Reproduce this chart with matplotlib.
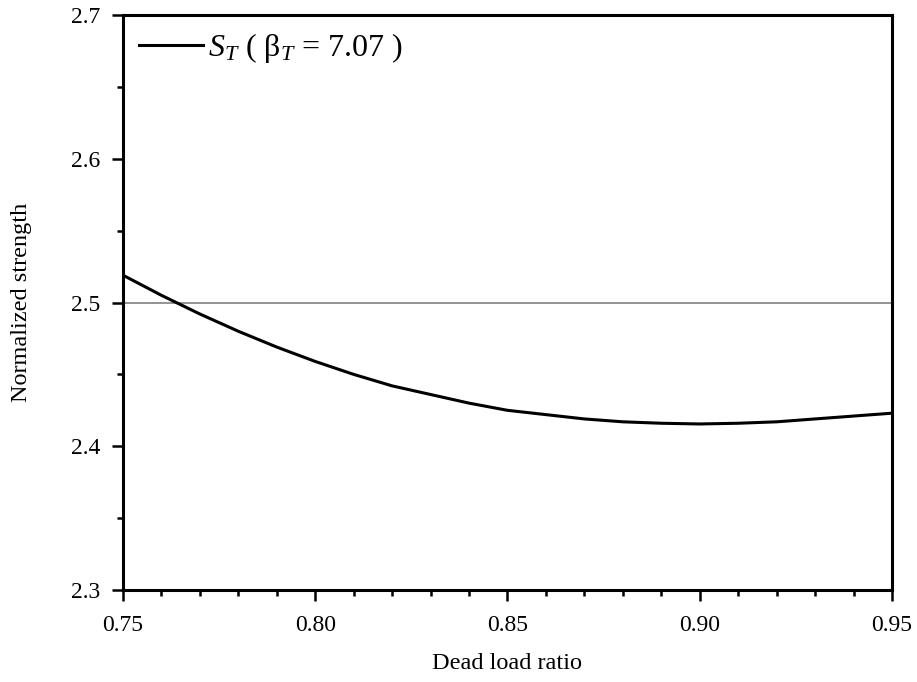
import numpy as np
import matplotlib
matplotlib.use('Agg')
import matplotlib.pyplot as plt
from matplotlib.ticker import MultipleLocator, FormatStrFormatter

plt.rcParams['font.family'] = 'Liberation Serif'
plt.rcParams['mathtext.fontset'] = 'custom'
plt.rcParams['mathtext.rm'] = 'Liberation Serif'
plt.rcParams['mathtext.it'] = 'Liberation Serif:italic'

dead_load_ratio = [0.75, 0.76, 0.77, 0.78, 0.79, 0.80, 0.81, 0.82, 0.83, 0.84, 0.85,
                   0.86, 0.87, 0.88, 0.89, 0.90, 0.91, 0.92, 0.93, 0.94, 0.95]
strength = [2.519, 2.505, 2.492, 2.480, 2.469, 2.459, 2.450, 2.442, 2.436, 2.430, 2.425,
            2.422, 2.419, 2.417, 2.416, 2.4155, 2.416, 2.417, 2.419, 2.421, 2.423]
target_level = 2.5

fig = plt.figure(figsize=(9.17, 6.82), dpi=100)
ax = fig.add_axes([0.1341, 0.1349, 0.9727 - 0.1341, 0.978 - 0.1349])

ax.axhline(target_level, color='#808080', linewidth=1.2, zorder=1)
ax.plot(dead_load_ratio, strength, color='black', linewidth=2.2,
        solid_joinstyle='round', label='$S_T$ ( β$_T$ = 7.07 )', zorder=2)

ax.set_xlim(0.75, 0.95)
ax.set_ylim(2.3, 2.7)
ax.xaxis.set_major_locator(MultipleLocator(0.05))
ax.xaxis.set_minor_locator(MultipleLocator(0.01))
ax.yaxis.set_major_locator(MultipleLocator(0.1))
ax.yaxis.set_minor_locator(MultipleLocator(0.05))
ax.xaxis.set_major_formatter(FormatStrFormatter('%.2f'))
ax.yaxis.set_major_formatter(FormatStrFormatter('%.1f'))

ax.tick_params(which='major', direction='out', length=8, width=1.8, labelsize=17)
ax.tick_params(axis='x', which='major', pad=10)
ax.tick_params(axis='y', which='major', pad=8)
ax.tick_params(which='minor', direction='out', length=4, width=1.8)
for spine in ax.spines.values():
    spine.set_linewidth(2.2)

ax.set_xlabel('Dead load ratio', fontsize=17.5, labelpad=12)
ax.set_ylabel('Normalized strength', fontsize=17.5, labelpad=28)

ax.legend(loc='upper left', frameon=False, fontsize=23, handlelength=2.0,
          handletextpad=0.15, borderaxespad=0.1, bbox_to_anchor=(0.0, 1.0))

fig.savefig('out.png', dpi=100)
